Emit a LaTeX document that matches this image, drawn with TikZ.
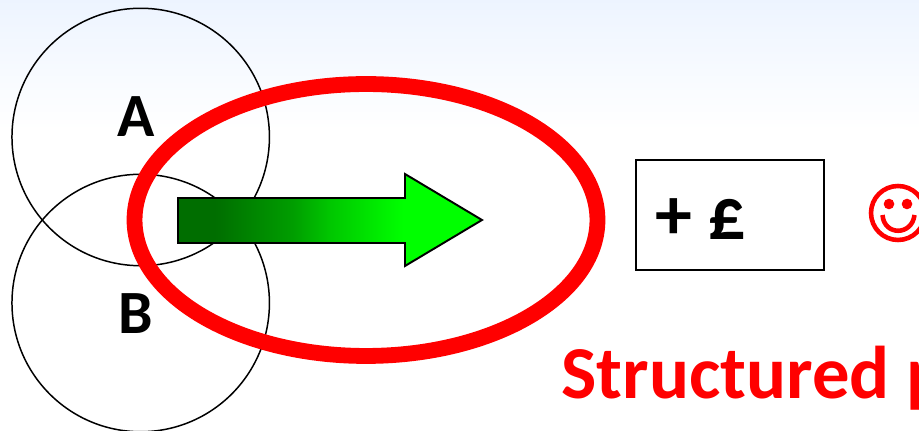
\documentclass[tikz,border=0pt]{standalone}
\usepackage{fontspec}
\setmainfont{Carlito}
\usetikzlibrary{shapes.geometric}
\pgfdeclarehorizontalshading{arrowfade}{100bp}{color(0bp)=(green!43!black); color(31bp)=(green!43!black); color(44bp)=(green!62!black); color(50bp)=(green!78!black); color(62bp)=(green); color(100bp)=(green)}
\tikzset{
  lens/.style={circle,draw=black,line width=0.85pt,minimum size=5.15cm,inner sep=0pt},
  bigword/.style={anchor=base,font=\fontsize{35}{35}\selectfont\bfseries,inner sep=0pt},
}
\begin{document}
\begin{tikzpicture}[x=0.02cm,y=-0.02cm]
\useasboundingbox (0,0) rectangle (919,431);
\clip (0,0) rectangle (919,431);
\shade[top color=blue!60!cyan!7,bottom color=white] (0,0) rectangle (919,130);
\node[lens] (circA) at (140.7,137) {};
\node[lens] (circB) at (140.7,303) {};
\node[bigword] (labelA) at (136.5,137) {A};
\node[bigword] (labelB) at (135.5,334) {B};
\node[ellipse,draw=red,line width=9pt,minimum width=9.26cm,minimum height=5.44cm,inner sep=0pt] (ring) at (366,220) {};
\draw[black,line width=1.1pt,shading=arrowfade] (178,198) -- (405,198) -- (405,174) -- (482,220) -- (405,266) -- (405,243) -- (178,243) -- cycle;
\node[draw=black,line width=1.1pt,minimum width=3.76cm,minimum height=2.2cm,inner sep=0pt] (gainbox) at (730,215) {};
\node[anchor=base west,inner sep=0pt,font=\fontsize{42}{42}\selectfont\bfseries] (gain) at (655,240) {+ £};
\node[circle,draw=red,line width=2.6pt,minimum size=1.08cm,inner sep=0pt] (smiley) at (898,213) {};
\fill[red] (889,204) circle (5.3);
\fill[red] (907,204) circle (5.3);
\draw[red,line width=2.6pt] (882.5,215) .. controls (884,236) and (912,236) .. (914.5,215);
\node[anchor=base west,inner sep=0pt,text=red,font=\fontsize{42.5}{42.5}\selectfont\bfseries] (slogan) at (561,399) {Structured p};
\end{tikzpicture}
\end{document}
